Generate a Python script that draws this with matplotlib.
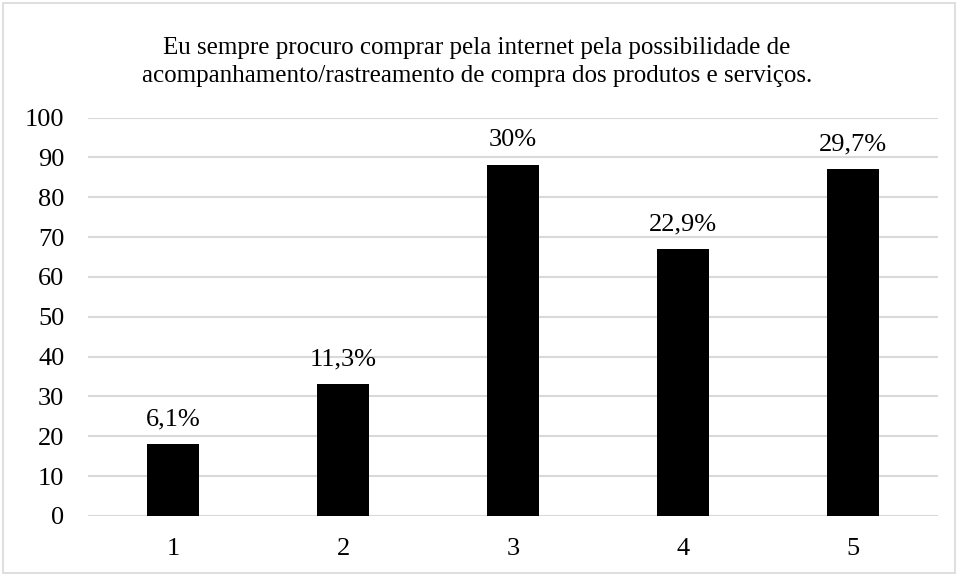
import matplotlib
matplotlib.use("Agg")
import matplotlib.pyplot as plt
from matplotlib.patches import Rectangle

plt.rcParams['font.family'] = ['Liberation Serif', 'DejaVu Serif']

categories = ['1', '2', '3', '4', '5']
counts = [18, 33, 88, 67, 87]
labels = ['6,1%', '11,3%', '30%', '22,9%', '29,7%']
title = ('Eu sempre procuro comprar pela internet pela possibilidade de\n'
         'acompanhamento/rastreamento de compra dos produtos e serviços.')

fig = plt.figure(figsize=(9.58, 5.76), dpi=100)
ax = fig.add_axes([88 / 958, 1 - 516 / 576, 850 / 958, (516 - 117.5) / 576])

x = range(len(categories))
bars = ax.bar(x, counts, width=0.31, color='black', zorder=3)
for b, lab in zip(bars, labels):
    ax.annotate(lab, (b.get_x() + b.get_width() / 2, b.get_height()),
                xytext=(0, 10), textcoords='offset points',
                ha='center', va='bottom', fontsize=19)

ax.set_xlim(-0.5, len(categories) - 0.5)
ax.set_ylim(0, 100)
ax.set_yticks(range(0, 101, 10))
ax.set_xticks(list(x))
ax.set_xticklabels(categories)
ax.tick_params(axis='both', length=0, labelsize=19)
ax.tick_params(axis='x', pad=16)
ax.tick_params(axis='y', pad=17)
ax.grid(axis='y', color='#d9d9d9', linewidth=1.5, zorder=0)
for s in ax.spines.values():
    s.set_visible(False)

fig.text(0.498, 1 - 62 / 576, title, ha='center', va='center',
         fontsize=18, linespacing=1.4)

# light frame round the whole chart
fig.patches.append(Rectangle((3 / 958, 3 / 576), 952 / 958, 570 / 576,
                             transform=fig.transFigure, fill=False,
                             edgecolor='#d9d9d9', linewidth=1.2))

fig.savefig('out.png', dpi=100, facecolor='white')
